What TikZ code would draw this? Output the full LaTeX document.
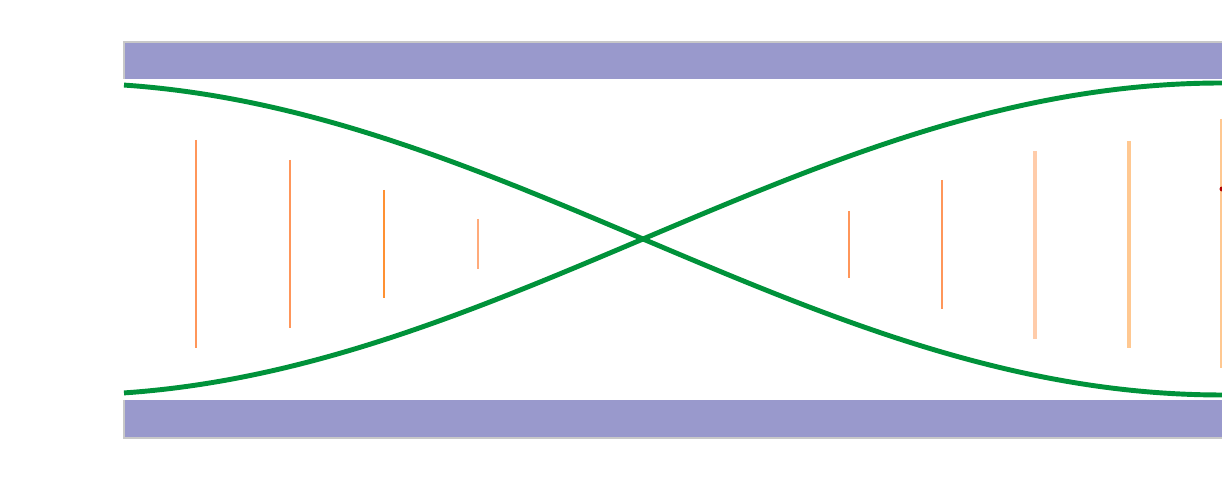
\documentclass[tikz,border=0pt]{standalone}
\usepackage{tikz}

\definecolor{barblue}{RGB}{153,153,204}
\definecolor{barrim}{RGB}{200,200,200}
\definecolor{beamgreen}{RGB}{0,146,58}
\definecolor{rayorange}{RGB}{255,150,90}
\definecolor{raydeep}{RGB}{255,145,50}
\definecolor{raypeach}{RGB}{255,204,170}
\definecolor{raysand}{RGB}{255,200,145}

\tikzset{
    bar/.style={fill=barblue},
    rim/.style={draw=barrim, line width=0.6pt},
    beam/.style={draw=beamgreen, line width=1.4pt, smooth},
    ray/.style={line width=0.6pt}
}

\begin{document}
\begin{tikzpicture}[x=0.01cm, y=-0.01cm]
            \useasboundingbox (0, 0) rectangle (1222, 480);
            \fill [bar] (124, 42) rectangle (1226, 79);
            \draw [rim] (124, 79) -- (124, 42) -- (1226, 42);
            \fill [bar] (124, 400) rectangle (1226, 438);
            \draw [rim] (124, 400) -- (124, 438) -- (1226, 438);
            \draw [ray, rayorange] (196, 140) -- (196, 348);
            \draw [ray, rayorange] (290, 160) -- (290, 328);
            \draw [ray, raydeep] (384, 190) -- (384, 298);
            \draw [ray, rayorange!80] (478, 219) -- (478, 269);
            \draw [ray, rayorange] (849, 211) -- (849, 278);
            \draw [ray, rayorange] (942, 180) -- (942, 309);
            \draw [ray, raypeach, line width=0.9pt] (1035, 151) -- (1035, 339);
            \draw [ray, raysand, line width=0.9pt] (1129, 141) -- (1129, 348);
            \draw [ray, raysand] (1221, 119) -- (1221, 368);
            \fill [red!70!black] (1222, 189) circle (2.5);
            \draw [beam] plot [domain=124:1222, samples=120] (\x, {239-156*sin(0.15544*(643-\x))});
            \draw [beam] plot [domain=124:1222, samples=120] (\x, {239+156*sin(0.15544*(643-\x))});
        \end{tikzpicture}
\end{document}
